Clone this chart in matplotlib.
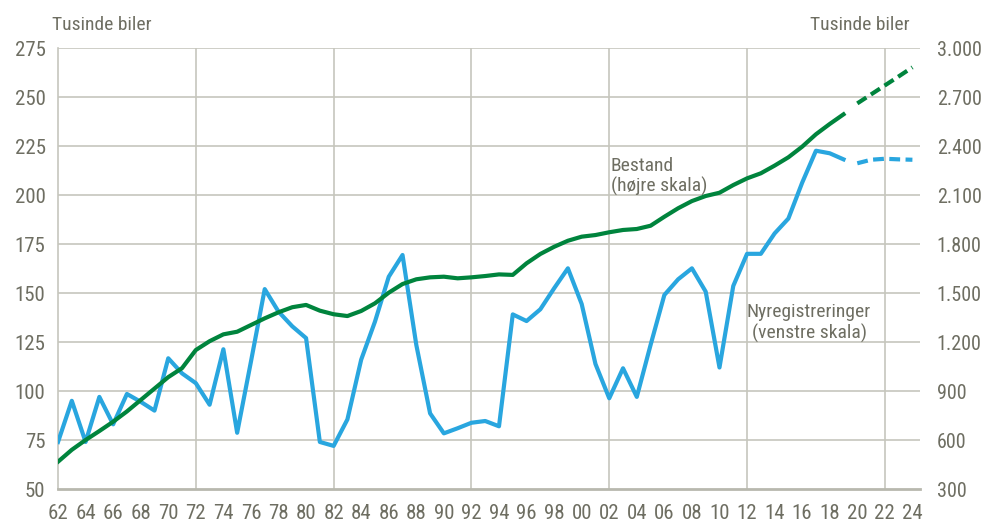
import matplotlib
matplotlib.use("Agg")
import matplotlib.pyplot as plt

# Arial Narrow look-alike
plt.rcParams["font.family"] = ["Roboto Condensed", "Archivo Narrow", "DejaVu Sans"]

### Data (thousand cars)

years = list(range(1962, 2020))
nyreg = [74, 95, 74, 97, 83, 98.5, 94.5, 90, 116.7, 109, 104, 93, 121.3, 78.7,
         115, 152, 140.5, 133, 127, 74, 72, 85.5, 116, 135.4, 158.3, 169.4,
         123.5, 88.6, 78.4, 81, 83.8, 84.7, 82, 139.1, 135.7, 141.7, 152.4,
         162.6, 144.4, 113.8, 96.3, 111.6, 97, 123.5, 149, 157, 162.6, 150.7,
         112, 153.6, 170, 170, 180.4, 188, 206.3, 222.6, 221.3, 218.2]
bestand = [467, 540, 600, 655, 712, 775, 845, 915, 985, 1040, 1151, 1205, 1247,
           1263, 1304, 1345, 1382, 1413, 1427, 1392, 1370, 1359, 1390, 1437,
           1502, 1555, 1584, 1596, 1600, 1590, 1596, 1604, 1614, 1611, 1682,
           1739, 1783, 1820, 1845, 1855, 1872, 1886, 1892, 1912, 1967, 2019,
           2063, 2094, 2114, 2161, 2202, 2233, 2280, 2331, 2396, 2472, 2535,
           2594]

proj_years = [2020, 2021, 2022, 2023, 2024]
nyreg_proj = [216.2, 218, 218.5, 218.2, 218]
bestand_proj = [2661, 2716, 2771, 2826, 2882]

left_ticks = [50, 75, 100, 125, 150, 175, 200, 225, 250, 275]
right_ticks = [300, 600, 900, 1200, 1500, 1800, 2100, 2400, 2700, 3000]

### Style

blue = "#29a6df"
green = "#00843d"
text_grey = "#6e6e62"
grid_grey = "#c6c6bd"
dashes = (0, (2.6, 1.3))

fig = plt.figure(figsize=(9.85, 5.29), dpi=100)
ax = fig.add_axes([0.0589, 0.0756, 0.8751, 0.8336])
ax2 = ax.twinx()

ax.set_xlim(1962, 2024.55)
ax.set_ylim(50, 275)
ax2.set_ylim(300, 3000)

# grid
ax.set_yticks(left_ticks)
ax.set_xticks(range(1962, 2025, 2))
ax.set_xticklabels(["{:02d}".format(y % 100) for y in range(1962, 2025, 2)])
for y in left_ticks[1:]:
    ax.axhline(y, color=grid_grey, lw=1.2, zorder=0)
for x in range(1972, 2025, 10):
    ax.axvline(x, color=grid_grey, lw=1.2, zorder=0)

ax2.set_yticks(right_ticks)
ax2.set_yticklabels(["{:,}".format(v).replace(",", ".") for v in right_ticks])

for a in (ax, ax2):
    for side in ("top", "right", "left", "bottom"):
        a.spines[side].set_visible(False)
    a.tick_params(length=0, labelsize=15, colors=text_grey)
ax.spines["left"].set_visible(True)
ax.spines["left"].set_color(grid_grey)
ax.spines["left"].set_linewidth(1.2)
ax.spines["bottom"].set_visible(True)
ax.spines["bottom"].set_color("#b8b8ae")
ax.spines["bottom"].set_linewidth(2)
ax.tick_params(axis="y", pad=9)
ax.tick_params(axis="x", pad=11)
ax2.tick_params(axis="y", pad=12, labelsize=14.5)

# lines
ax.plot(years, nyreg, color=blue, lw=3, zorder=3)
ax.plot(proj_years, nyreg_proj, color=blue, lw=3, ls=dashes, zorder=3)
ax2.plot(years, bestand, color=green, lw=3, zorder=3)
ax2.plot(proj_years, bestand_proj, color=green, lw=3, ls=dashes, zorder=3)

# labels
fig.text(0.103, 0.953, "Tusinde biler", ha="center", va="center",
         fontsize=14, color=text_grey)
fig.text(0.873, 0.953, "Tusinde biler", ha="center", va="center",
         fontsize=14, color=text_grey)
ax.text(2002.1, 209.5, "Bestand\n(højre skala)", ha="left", va="center",
        fontsize=14, color=text_grey, linespacing=1.15)
ax.text(2016.5, 134.7, "Nyregistreringer\n(venstre skala)", ha="center",
        va="center", fontsize=14, color=text_grey, linespacing=1.15)

fig.savefig("out.png", dpi=100)
